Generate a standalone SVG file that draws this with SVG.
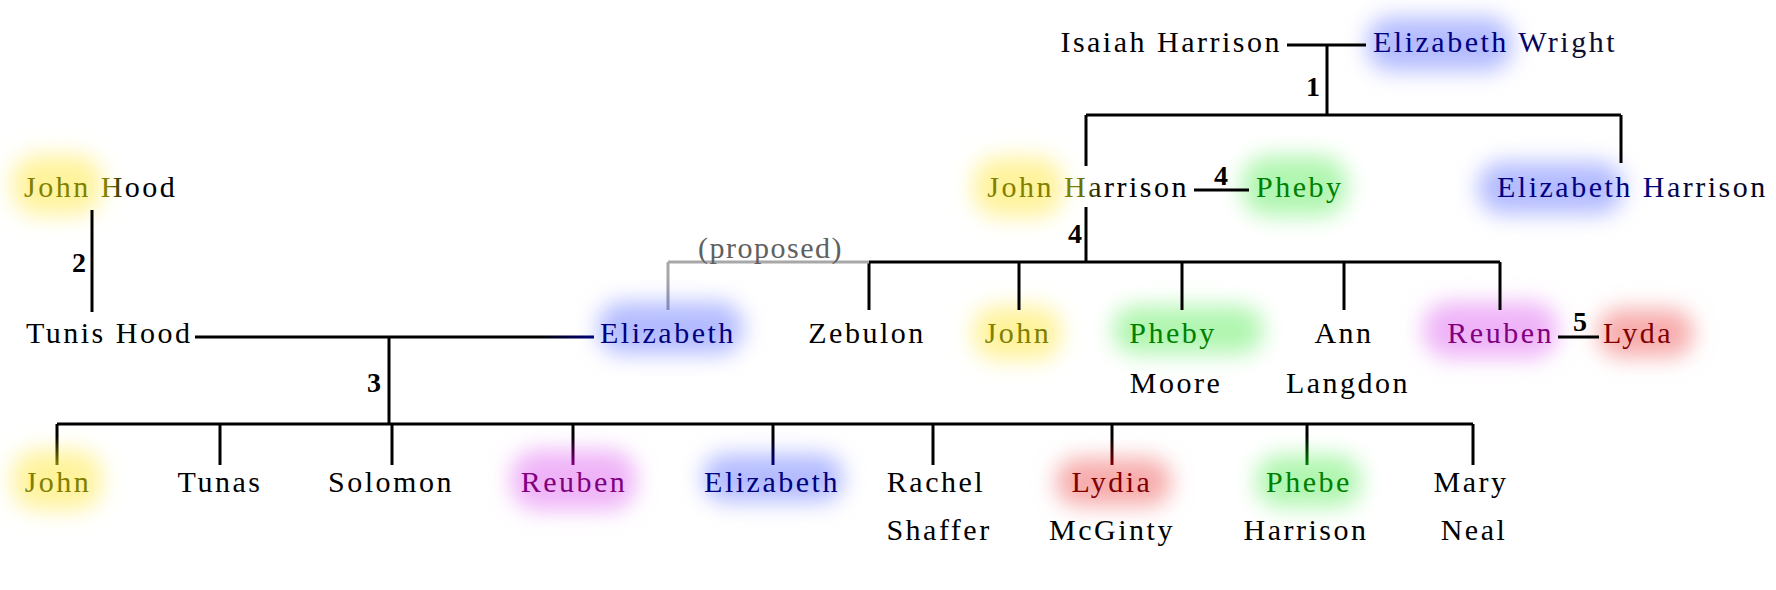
<svg xmlns="http://www.w3.org/2000/svg" width="1776" height="590" viewBox="0 0 1776 590">
<style>
text{font-family:"Liberation Serif","Times New Roman",serif;font-size:30px;letter-spacing:2.5px;fill:#000}
.m{text-anchor:middle}
.e{text-anchor:end}
.lab{font-weight:bold;font-size:28px;letter-spacing:0}
.ln{stroke:#000;stroke-width:3;fill:none}
.y{fill:#808000}.b{fill:#000080}.g{fill:#008000}.p{fill:#800080}.r{fill:#800000}
.gy{fill:#fff39c}.gb{fill:#b4bcff}.gg{fill:#b0f6b0}.gp{fill:#efb4f8}.gr{fill:#f7acac}
.glow{filter:url(#blur)}
</style>
<defs>
<filter id="blur" x="-60%" y="-100%" width="220%" height="300%"><feGaussianBlur stdDeviation="11"/></filter>
<linearGradient id="tJHood" x1="0" x2="1" y1="0" y2="0"><stop offset="0.55" stop-color="#808000"/><stop offset="0.68" stop-color="#000"/></linearGradient>
<linearGradient id="tJHarr" x1="0" x2="1" y1="0" y2="0"><stop offset="0.44" stop-color="#808000"/><stop offset="0.6" stop-color="#000"/></linearGradient>
<linearGradient id="tEW" x1="0" x2="1" y1="0" y2="0"><stop offset="0.55" stop-color="#000080"/><stop offset="0.8" stop-color="#0c0c30"/></linearGradient>
<linearGradient id="tEH" x1="0" x2="1" y1="0" y2="0"><stop offset="0.56" stop-color="#000080"/><stop offset="0.75" stop-color="#050525"/></linearGradient>
<linearGradient id="cY" gradientUnits="userSpaceOnUse" x1="0" y1="424" x2="0" y2="465"><stop offset="0.3" stop-color="#000"/><stop offset="1" stop-color="#808000"/></linearGradient>
<linearGradient id="cB" gradientUnits="userSpaceOnUse" x1="0" y1="424" x2="0" y2="465"><stop offset="0.3" stop-color="#000"/><stop offset="1" stop-color="#000080"/></linearGradient>
<linearGradient id="cP" gradientUnits="userSpaceOnUse" x1="0" y1="424" x2="0" y2="465"><stop offset="0.3" stop-color="#000"/><stop offset="1" stop-color="#800080"/></linearGradient>
<linearGradient id="cR" gradientUnits="userSpaceOnUse" x1="0" y1="424" x2="0" y2="465"><stop offset="0.3" stop-color="#000"/><stop offset="1" stop-color="#800000"/></linearGradient>
<linearGradient id="cG" gradientUnits="userSpaceOnUse" x1="0" y1="424" x2="0" y2="465"><stop offset="0.3" stop-color="#000"/><stop offset="1" stop-color="#008000"/></linearGradient>
<linearGradient id="cTE" gradientUnits="userSpaceOnUse" x1="540" y1="0" x2="594" y2="0"><stop offset="0" stop-color="#000"/><stop offset="1" stop-color="#000080"/></linearGradient>
<linearGradient id="cProp" gradientUnits="userSpaceOnUse" x1="0" y1="262" x2="0" y2="310"><stop offset="0.3" stop-color="#a8a8a8"/><stop offset="1" stop-color="#8088c0"/></linearGradient>
</defs>

<!-- nodes -->
<g id="isaiah-harrison"><text class="e" x="1282" y="52">Isaiah Harrison</text></g>
<g id="elizabeth-wright"><rect class="glow gb" x="1367" y="17" width="145" height="54" rx="24"/><text x="1373" y="52" style="fill:url(#tEW)">Elizabeth Wright</text></g>
<g id="john-hood"><rect class="glow gy" x="12" y="155" width="90" height="60" rx="26"/><text x="24" y="197" style="fill:url(#tJHood)">John Hood</text></g>
<g id="john-harrison"><rect class="glow gy" x="973" y="157" width="90" height="60" rx="26"/><text class="e" x="1189" y="197" style="fill:url(#tJHarr)">John Harrison</text></g>
<g id="pheby-spouse"><rect class="glow gg" x="1242" y="156" width="105" height="60" rx="26"/><text class="g" x="1256" y="197">Pheby</text></g>
<g id="elizabeth-harrison"><rect class="glow gb" x="1478" y="162" width="145" height="52" rx="24"/><text x="1497" y="197" style="fill:url(#tEH)">Elizabeth Harrison</text></g>
<g id="tunis-hood"><text x="26" y="343">Tunis Hood</text></g>
<g id="elizabeth-proposed"><rect class="glow gb" x="598" y="302" width="145" height="52" rx="24"/><text class="b" x="600" y="343">Elizabeth</text></g>
<g id="zebulon"><text class="m" x="867" y="343">Zebulon</text></g>
<g id="john-mid"><rect class="glow gy" x="973" y="306" width="88" height="54" rx="24"/><text class="m y" x="1018" y="343">John</text></g>
<g id="pheby-moore"><rect class="glow gg" x="1113" y="306" width="150" height="48" rx="22"/><text class="m g" x="1173" y="343">Pheby</text><text class="m" x="1176" y="393">Moore</text></g>
<g id="ann-langdon"><text class="m" x="1344" y="343">Ann</text><text class="m" x="1348" y="393">Langdon</text></g>
<g id="reuben-mid"><rect class="glow gp" x="1423" y="302" width="135" height="56" rx="26"/><text class="e p" x="1554" y="343">Reuben</text></g>
<g id="lyda"><rect class="glow gr" x="1598" y="309" width="95" height="48" rx="22"/><text class="r" x="1603" y="343">Lyda</text></g>
<g id="john-bottom"><rect class="glow gy" x="12" y="450" width="90" height="60" rx="26"/><text class="m y" x="58" y="492">John</text></g>
<g id="tunas"><text class="m" x="220" y="492">Tunas</text></g>
<g id="solomon"><text class="m" x="391" y="492">Solomon</text></g>
<g id="reuben-bottom"><rect class="glow gp" x="511" y="450" width="125" height="60" rx="26"/><text class="m p" x="574" y="492">Reuben</text></g>
<g id="elizabeth-bottom"><rect class="glow gb" x="703" y="454" width="140" height="48" rx="22"/><text class="m b" x="772" y="492">Elizabeth</text></g>
<g id="rachel-shaffer"><text class="m" x="936" y="492">Rachel</text><text class="m" x="939" y="540">Shaffer</text></g>
<g id="lydia-mcginty"><rect class="glow gr" x="1056" y="458" width="115" height="48" rx="22"/><text class="m r" x="1112" y="492">Lydia</text><text class="m" x="1112" y="540">McGinty</text></g>
<g id="phebe-harrison"><rect class="glow gg" x="1256" y="455" width="105" height="52" rx="24"/><text class="m g" x="1309" y="492">Phebe</text><text class="m" x="1306" y="540">Harrison</text></g>
<g id="mary-neal"><text class="m" x="1471" y="492">Mary</text><text class="m" x="1474" y="540">Neal</text></g>

<!-- connectors -->
<g id="connectors">
<path class="ln" d="M1287 45H1366M1327 45V115M1086 115H1621M1086 115V166M1621 115V163"/>
<path class="ln" d="M1194 190H1249"/>
<path class="ln" d="M92 210V312"/>
<path class="ln" d="M1086 207V262M869 262H1500M869 262V310M1019 262V310M1182 262V310M1344 262V310M1500 262V310"/>
<path d="M668 262H869" stroke="#a8a8a8" stroke-width="3" fill="none"/>
<path d="M668 262V310" stroke="url(#cProp)" stroke-width="3" fill="none"/>
<path d="M195 337H594" stroke="url(#cTE)" stroke-width="3" fill="none"/>
<path class="ln" d="M389 337V424M57 424H1473M220 424V465M392 424V465M933 424V465M1473 424V465"/>
<path d="M57 424V465" stroke="url(#cY)" stroke-width="3"/>
<path d="M573 424V465" stroke="url(#cP)" stroke-width="3"/>
<path d="M773 424V465" stroke="url(#cB)" stroke-width="3"/>
<path d="M1112 424V465" stroke="url(#cR)" stroke-width="3"/>
<path d="M1307 424V465" stroke="url(#cG)" stroke-width="3"/>
<path class="ln" d="M1558 337H1599"/>
<text class="e lab" x="1320" y="96">1</text>
<text class="e lab" x="86" y="272">2</text>
<text class="e lab" x="381" y="392">3</text>
<text class="m lab" x="1221" y="185">4</text>
<text class="e lab" x="1082" y="243">4</text>
<text class="m lab" x="1580" y="331">5</text>
<text x="698" y="258" style="fill:#606060;letter-spacing:1.5px">(proposed)</text>
</g>
</svg>
